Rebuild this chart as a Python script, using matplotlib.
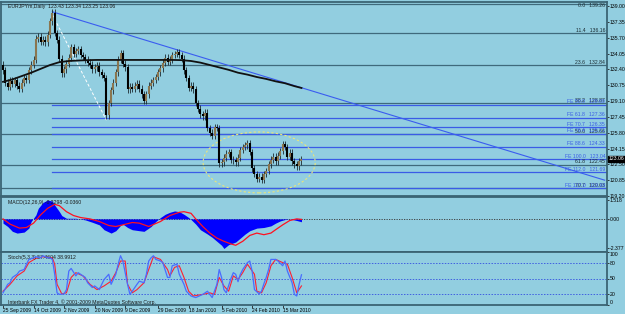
import matplotlib.pyplot as plt
from matplotlib.patches import Ellipse

plt.rcParams['font.family'] = ['Liberation Sans Narrow', 'Liberation Sans', 'DejaVu Sans']

# daily closes, EURJPY, 25 Sep 2009 .. 19 Mar 2010 (bar index = position)
closes = [132.3, 131.0, 130.6, 131.2, 130.9, 131.3, 130.7, 130.4, 131.0, 131.5,
          131.3, 132.3, 132.9, 133.4, 135.6, 135.8, 135.3, 135.5, 135.2, 136.0,
          137.4, 138.3, 136.2, 135.5, 133.5, 132.0, 132.4, 133.0, 133.6, 134.7,
          134.0, 134.3, 134.5, 133.9, 133.7, 133.4, 133.1, 132.9, 132.4, 132.6,
          132.8, 132.1, 131.8, 131.5, 127.6, 128.9, 130.2, 131.0, 132.1, 133.4,
          134.1, 133.0, 132.6, 130.3, 130.6, 130.4, 130.7, 130.9, 130.4, 129.8,
          129.1, 129.8, 130.7, 131.0, 131.3, 131.6, 132.1, 132.5, 133.1, 133.6,
          133.2, 133.4, 133.9, 134.0, 134.2, 133.9, 133.5, 132.3, 131.5, 130.5,
          130.7, 130.3, 128.9, 128.3, 127.7, 127.5, 127.9, 126.3, 125.8, 125.5,
          126.4, 126.3, 122.6, 122.7, 123.2, 123.6, 123.8, 123.0, 122.9, 122.7,
          123.2, 124.0, 124.3, 124.5, 124.7, 123.8, 122.1, 121.5, 121.0, 121.2,
          120.9, 121.5, 121.8, 122.5, 123.0, 123.3, 122.8, 123.4, 123.9, 124.6,
          124.3, 123.3, 123.7, 122.8, 122.5, 122.3, 122.8, 123.06]
first_open = 132.9

ma_idx = [0, 4, 8, 12, 16, 20, 24, 28, 32, 36, 40, 44, 48, 52, 56, 60, 64,
          68, 72, 76, 80, 84, 88, 92, 96, 100, 104, 108, 112, 116, 120, 124, 127]
ma_vals = [131.1, 131.35, 131.7, 132.05, 132.45, 132.85, 133.15, 133.27, 133.32,
           133.36, 133.38, 133.38, 133.38, 133.38, 133.38, 133.38, 133.38, 133.38,
           133.38, 133.36, 133.27, 133.1, 132.85, 132.6, 132.35, 132.05, 131.85,
           131.6, 131.4, 131.15, 130.95, 130.65, 130.46]

price_ticks = [139.00, 137.35, 135.70, 134.05, 132.40, 130.75, 129.10,
               127.45, 125.80, 124.15, 122.50, 120.85, 119.20]
last_price = 123.06

ret_names = ['0.0', '11.4', '23.6', '38.2', '50.0', '61.8', '70.7']
ret_prices = [139.26, 136.16, 132.84, 128.87, 125.66, 122.45, 120.03]
fe_names = ['50.0', '61.8', '70.7', '76.4', '88.6', '100.0', '112.0', '127.0']
fe_prices = [128.69, 127.36, 126.35, 125.71, 124.33, 123.04, 121.69, 119.99]
fe_start = 21

trend_x = [21, 256]
trend_y = [138.4, 120.85]
base_x = [21, 44]
base_y = [138.1, 127.1]

macd_idx = [0, 2, 4, 6, 9, 11, 12, 14, 15, 17, 19, 21, 22, 24, 25, 27, 31, 35, 38, 41,
            43, 46, 48, 50, 51, 53, 55, 58, 60, 63, 65, 67, 69, 71, 73, 75, 77, 79, 80, 82,
            84, 87, 89, 91, 93, 94, 96, 99, 101, 103, 105, 108, 111, 114, 116, 118, 120,
            122, 125, 127]
macd_vals = [-0.34, -0.61, -1.0, -1.14, -1.06, -0.74, -0.2, 0.32, 0.85, 1.32,
             1.518, 1.43, 1.11, 0.58, 0.27, 0.05, 0.05, -0.08, -0.27, -0.48,
             -0.87, -1.14, -0.95, -0.53, -0.42, -0.69, -0.87, -0.95, -1.0, -0.61,
             -0.21, 0.11, 0.37, 0.53, 0.64, 0.58, 0.37, 0.11, -0.05, -0.42,
             -0.87, -1.22, -1.48, -1.8, -2.12, -2.377, -2.07, -1.86, -1.54, -1.22,
             -0.95, -0.74, -0.69, -0.56, -0.34, -0.16, -0.05, 0.0, -0.13, -0.23]
sig_idx = [0, 3, 7, 10, 13, 16, 19, 22, 24, 27, 30, 33, 37, 41, 45, 48, 51, 55, 58, 62,
           64, 67, 71, 75, 77, 80, 82, 85, 88, 91, 94, 97, 99, 102, 105, 108, 111, 114,
           116, 119, 122, 125, 127]
sig_vals = [0, -0.42, -0.74, -0.69, -0.34, 0.32, 0.85, 1.17, 1.06, 0.58,
            0.27, 0.11, 0, -0.21, -0.53, -0.61, -0.48, -0.29, -0.34, -0.61,
            -0.45, -0.21, 0.27, 0.53, 0.58, 0.45, 0, -0.61, -1.14, -1.54,
            -1.8, -2.01, -2.12, -1.8, -1.33, -1.14, -1.27, -1.14, -0.87, -0.48,
            -0.13, 0, -0.04]

st_idx = [0, 2, 3, 4, 6, 7, 9, 10, 11, 13, 14, 16, 17, 19, 20, 21, 22, 23, 24, 26,
          27, 28, 29, 31, 32, 33, 35, 36, 38, 39, 41, 42, 43, 45, 46, 48, 49, 50, 51, 53,
          54, 55, 57, 58, 60, 61, 62, 63, 64, 65, 67, 68, 70, 71, 72, 74, 75, 77, 78, 80,
          82, 85, 87, 88, 89, 91, 92, 93, 94, 95, 97, 98, 99, 100, 101, 102, 104, 105,
          106, 107, 109, 110, 111, 112, 113, 114, 116, 117, 119, 120, 121, 123, 124,
          125, 126, 127]
st_vals = [23, 39, 42, 52, 58, 64, 67, 77, 86, 89, 91, 89, 93, 89, 89, 86, 58, 23, 20, 21,
           29, 64, 69, 55, 61, 58, 52, 42, 33, 36, 29, 39, 48, 58, 39, 58, 77, 93, 83, 39,
           20, 26, 39, 45, 42, 58, 83, 89, 93, 86, 83, 80, 52, 52, 74, 77, 58, 39, 26, 17,
           14, 20, 26, 20, 14, 39, 67, 52, 29, 23, 50, 61, 58, 44, 58, 67, 80, 83, 64, 29,
           21, 26, 40, 52, 67, 86, 86, 83, 74, 83, 64, 42, 20, 17, 39, 57]
sd_idx = [0, 3, 6, 9, 11, 14, 17, 21, 22, 23, 25, 27, 29, 31, 34, 37, 40, 43, 46, 48,
          50, 52, 53, 55, 57, 60, 62, 64, 67, 70, 71, 73, 75, 77, 79, 81, 85, 88, 90, 92,
          94, 96, 98, 100, 102, 104, 107, 108, 110, 112, 114, 116, 119, 121, 123, 125, 127]
sd_vals = [26, 39, 55, 64, 80, 88, 91, 89, 77, 39, 21, 23, 52, 61, 55, 39, 29, 36, 45, 61,
           83, 83, 39, 23, 29, 42, 67, 91, 86, 67, 55, 71, 74, 52, 26, 17, 20, 23, 20, 52,
           36, 26, 55, 48, 61, 77, 58, 26, 23, 42, 74, 86, 80, 77, 52, 23, 36]

date_idx = [0, 13, 26, 39, 52, 66, 79, 93, 106, 119]
date_labels = ['25 Sep 2009', '14 Oct 2009', '2 Nov 2009', '20 Nov 2009', '9 Dec 2009',
               '29 Dec 2009', '18 Jan 2010', '5 Feb 2010', '24 Feb 2010', '15 Mar 2010']

BG = '#92cee0'
FRAME = '#3b6474'
RET = '#3f6a7c'
FE = '#3a5ce6'
FS = 3.7
W, H = 625, 314

fig = plt.figure(figsize=(6.25, 3.14), dpi=100)
fig.patch.set_facecolor(BG)


def panel(top, bottom):
    a = fig.add_axes([1 / W, 1 - bottom / H, 606 / W, (bottom - top) / H])
    a.set_facecolor(BG)
    a.set_xlim(-0.85, 257)
    for s in a.spines.values():
        s.set_color(FRAME)
        s.set_linewidth(1.3)
    a.yaxis.tick_right()
    a.tick_params(axis='y', length=1.6, width=0.6, color='#222222', labelsize=FS, pad=0.4)
    a.tick_params(axis='x', bottom=False, labelbottom=False)
    return a


ax = panel(1.5, 196)
ax.set_ylim(119.20, 139.47)
ax.set_yticks(price_ticks)
ax.set_yticklabels(['%.2f' % p for p in price_ticks])

# fibo retracement (full width) and expansion (from the top)
for n, p in zip(ret_names, ret_prices):
    ax.axhline(p, color=RET, lw=0.9, zorder=1)
    ax.text(0.997, p + 0.05, n + '   ' + '%.2f' % p, transform=ax.get_yaxis_transform(),
            ha='right', va='bottom' if p < 139 else 'top', fontsize=FS,
            color='#1a2a30', zorder=5)
for n, p in zip(fe_names, fe_prices):
    ax.plot([fe_start, 257], [p, p], color=FE, lw=0.9, zorder=1)
    ax.text(0.997, p + 0.05, 'FE ' + n + '   ' + '%.2f' % p, transform=ax.get_yaxis_transform(),
            ha='right', va='bottom', fontsize=FS, color=FE, zorder=5)

ax.plot(trend_x, trend_y, color='#3a5cf0', lw=0.8, zorder=2)
ax.plot(base_x, base_y, color='white', lw=0.7, ls=(0, (3, 2)), zorder=2)
ax.plot(ma_idx, ma_vals, color='#111111', lw=1.3, zorder=4)

# candles
opens = [first_open] + closes[:-1]
for i, (o, c) in enumerate(zip(opens, closes)):
    lo, hi = min(o, c), max(o, c)
    ax.vlines(i, lo - 0.35, hi + 0.35, color='#1c2a30', lw=0.6, zorder=3)
    ax.vlines(i, lo, max(hi, lo + 0.08), color='#8a7650' if c >= o else '#000000',
              lw=1.5, zorder=3)

ax.add_patch(Ellipse((109, 122.7), 47.7, 6.35, fill=False, edgecolor='#ece57a',
                     ls=(0, (2, 2)), lw=0.8, zorder=2))
ax.text(1.002, last_price, '%.2f' % last_price, transform=ax.get_yaxis_transform(),
        ha='left', va='center', fontsize=FS, color='white', zorder=6, clip_on=False,
        bbox=dict(boxstyle='square,pad=0.12', fc='black', ec='black'))
ax.text(2, 138.9, 'EURJPYm,Daily  123.43 123.34 123.25 123.06', fontsize=FS,
        color='#1a1a1a', va='center')

# MACD
am = panel(197, 251.5)
am.set_ylim(-2.62, 1.76)
am.set_yticks([1.518, 0, -2.377])
am.set_yticklabels(['1.518', '0.00', '-2.377'])
am.axhline(0, color='#333333', lw=0.6, ls=(0, (1.5, 1.5)))
am.fill_between(macd_idx, 0, macd_vals, color='#0000ff', lw=0, zorder=2)
am.plot(sig_idx, sig_vals, color='#ff1020', lw=0.9, zorder=3)
am.text(2, 1.35, 'MACD(12,26,9) -0.2298 -0.0360', fontsize=FS, color='#1a1a1a', va='center')

# Stochastic
ast = panel(252, 305)
ast.set_ylim(0, 100)
ast.set_yticks([100, 80, 50, 20, 0])
ast.set_yticklabels(['100', '80', '50', '20', '0'])
labs = ast.get_yticklabels()
labs[0].set_va('top')
labs[-1].set_va('bottom')
for lv in (80, 50, 20):
    ast.axhline(lv, color='#4060e0', lw=0.7, ls=(0, (1.5, 1.5)))
ast.plot(sd_idx, sd_vals, color='#ff2030', lw=0.8, zorder=3)
ast.plot(st_idx, st_vals, color='#4a6cff', lw=0.9, zorder=4)
ast.text(2, 90, 'Stoch(5,3,3) 57.4604 38.9912', fontsize=FS, color='#1a1a1a', va='center')
ast.text(2, 6, 'Interbank FX Trader 4, \u00a9 2001-2009 MetaQuotes Software Corp.',
         fontsize=FS, color='#1a1a1a', va='center')
ast.set_xticks(date_idx)
ast.set_xticklabels(date_labels, ha='left')
ast.tick_params(axis='x', bottom=True, labelbottom=True, length=2, width=0.6,
                color='#222222', labelsize=FS - 0.2, pad=0.5)

fig.savefig('out.png', dpi=100, facecolor=BG)
